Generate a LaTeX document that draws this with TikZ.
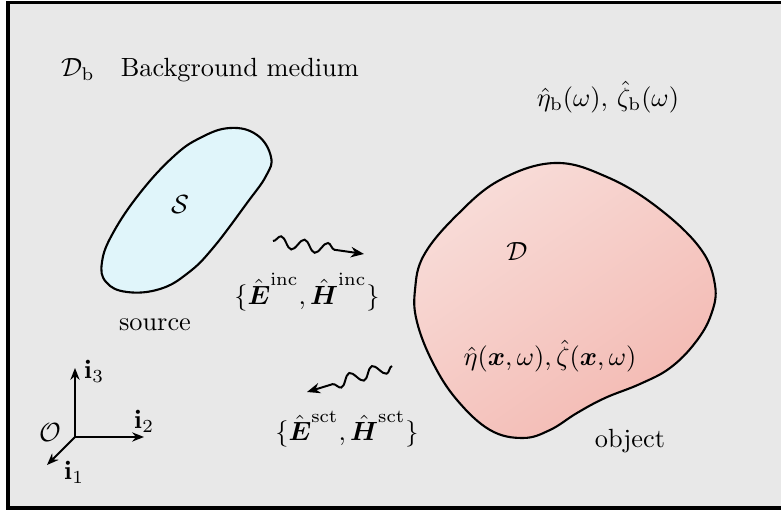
\documentclass[tikz,border=0pt]{standalone}
\usepackage{amsmath,amssymb}
\usetikzlibrary{arrows.meta,decorations.pathmorphing,shadings}
\definecolor{bgcol}{HTML}{E8E8E8}
\definecolor{srccol}{HTML}{E0F5FA}
\definecolor{objA}{HTML}{F8DCD8}
\definecolor{objB}{HTML}{F3B9B2}
\tikzset{
  blob/.style={draw=black,line width=0.8pt},
  wave/.style={line width=0.75pt,-{Stealth[length=5pt,width=4pt]},
    decorate,decoration={snake,segment length=9pt,amplitude=2.2pt,post length=9pt}},
  axis/.style={line width=0.7pt,-{Stealth[length=4.5pt,width=3.5pt]}},
  lbl/.style={inner sep=0pt}
}
\begin{document}
\begin{tikzpicture}[x=0.38pt,y=-0.38pt]
\useasboundingbox (0,0) rectangle (781,514);
% background frame
\draw[fill=bgcol,line width=1.2pt] (8,2.5) rectangle (795,508);

% source blob
\draw[blob,fill=srccol] plot[smooth cycle,tension=0.7] coordinates {
  (230,128) (257,135) (271,157) (266,176) (247,203) (213,248) (188,273)
  (160,289) (127,292) (106,282) (102,262) (113,233) (140,193) (173,157) (200,138)};
\node[lbl] (S) at (180,205) {$\mathcal{S}$};
\node[lbl] (src) at (155,325) {source};

% object blob
\shade[left color=objA,right color=objB,shading angle=35]
  plot[smooth cycle,tension=0.65] coordinates {
  (555,163) (607,177) (657,207) (700,248) (715,285) (711,315) (695,343)
  (670,368) (640,384) (605,398) (577,413) (550,430) (523,438) (490,430)
  (457,400) (433,363) (417,322) (415,290) (424,255) (457,215) (500,180)};
\draw[blob] plot[smooth cycle,tension=0.65] coordinates {
  (555,163) (607,177) (657,207) (700,248) (715,285) (711,315) (695,343)
  (670,368) (640,384) (605,398) (577,413) (550,430) (523,438) (490,430)
  (457,400) (433,363) (417,322) (415,290) (424,255) (457,215) (500,180)};
\node[lbl] (D) at (517,252) {$\mathcal{D}$};
\node[lbl] (eta) at (550,356) {$\hat{\eta}(\boldsymbol{x},\omega),\hat{\zeta}(\boldsymbol{x},\omega)$};
\node[lbl] (obj) at (630,441) {object};

% background labels
\node[lbl] (Db) at (210,70) {$\mathcal{D}_{\mathrm{b}}$\quad Background medium};
\node[lbl] (etab) at (608,97) {$\hat{\eta}_{\mathrm{b}}(\omega),\,\hat{\zeta}_{\mathrm{b}}(\omega)$};

% waves
\coordinate (wi1) at (273,241);
\coordinate (wi2) at (364,254);
\draw[wave] (wi1) -- (wi2);
\node[lbl] (inc) at (307,292) {$\{\hat{\boldsymbol{E}}^{\mathrm{inc}},\hat{\boldsymbol{H}}^{\mathrm{inc}}\}$};

\coordinate (ws1) at (392,366);
\coordinate (ws2) at (307,392);
\draw[wave] (ws1) -- (ws2);
\node[lbl] (sct) at (347,429) {$\{\hat{\boldsymbol{E}}^{\mathrm{sct}},\hat{\boldsymbol{H}}^{\mathrm{sct}}\}$};

% axes
\coordinate (O) at (75,437);
\coordinate (a3) at (75,368);
\coordinate (a2) at (144,437);
\coordinate (a1) at (47,465);
\draw[axis] (O) -- (a3);
\draw[axis] (O) -- (a2);
\draw[axis] (O) -- (a1);
\node[lbl] (l3) at (94,371) {$\mathbf{i}_3$};
\node[lbl] (l2) at (144,421) {$\mathbf{i}_2$};
\node[lbl] (l1) at (74,472) {$\mathbf{i}_1$};
\node[lbl] (lO) at (50,433) {$\mathcal{O}$};
\end{tikzpicture}
\end{document}
